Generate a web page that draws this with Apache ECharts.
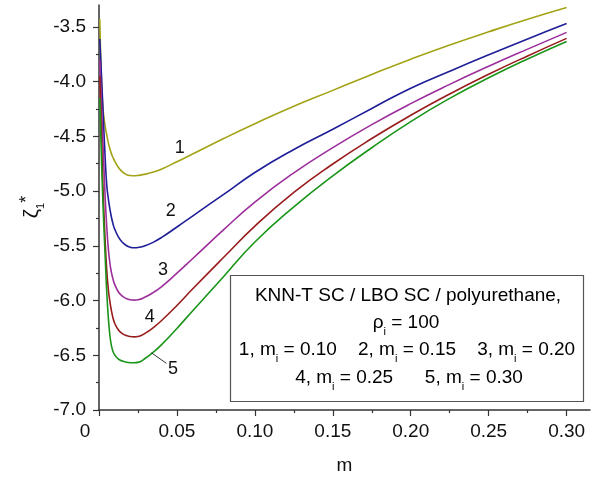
<!DOCTYPE html>
<html><head><meta charset="utf-8">
<script src="https://cdn.jsdelivr.net/npm/echarts@6/dist/echarts.min.js"></script>
<style>html,body{margin:0;padding:0;background:#fff}#c{width:607px;height:485px}</style>
</head><body><div id="c"></div>
<script>
// m values (x)
const mValues = [0.0005, 0.0015, 0.0025, 0.004, 0.005, 0.006, 0.007, 0.008, 0.009, 0.01, 0.0125, 0.015, 0.0175, 0.02, 0.0225, 0.025, 0.03, 0.035, 0.04, 0.05, 0.06, 0.08, 0.10, 0.125, 0.15, 0.175, 0.20, 0.225, 0.25, 0.275, 0.30];
// zeta_1* for m_i = 0.10, 0.15, 0.20, 0.25, 0.30
const curve1 = [-3.43, -3.95, -4.24, -4.41, -4.49, -4.56, -4.615, -4.66, -4.695, -4.725, -4.785, -4.825, -4.848, -4.858, -4.86, -4.857, -4.845, -4.826, -4.80, -4.732, -4.662, -4.52, -4.385, -4.225, -4.08, -3.935, -3.795, -3.665, -3.545, -3.43, -3.323];
const curve2 = [-3.61, -3.92, -4.24, -4.71, -4.95, -5.07, -5.165, -5.24, -5.30, -5.345, -5.42, -5.468, -5.497, -5.513, -5.518, -5.516, -5.497, -5.466, -5.425, -5.328, -5.228, -5.03, -4.83, -4.62, -4.435, -4.245, -4.06, -3.905, -3.755, -3.61, -3.47];
const curve3 = [-3.80, -4.17, -4.54, -5.07, -5.33, -5.53, -5.66, -5.745, -5.805, -5.85, -5.922, -5.96, -5.982, -5.993, -5.996, -5.993, -5.965, -5.925, -5.875, -5.75, -5.618, -5.352, -5.10, -4.833, -4.603, -4.393, -4.201, -4.025, -3.86, -3.703, -3.55];
const curve4 = [-3.95, -4.45, -4.94, -5.47, -5.73, -5.90, -6.01, -6.095, -6.16, -6.205, -6.27, -6.302, -6.32, -6.329, -6.332, -6.329, -6.295, -6.245, -6.185, -6.045, -5.895, -5.605, -5.32, -5.0125, -4.7525, -4.52, -4.3075, -4.1125, -3.9325, -3.765, -3.605];
const curve5 = [-4.15, -4.66, -5.10, -5.61, -5.93, -6.16, -6.32, -6.415, -6.465, -6.495, -6.535, -6.553, -6.563, -6.568, -6.569, -6.565, -6.525, -6.47, -6.405, -6.255, -6.095, -5.78, -5.465, -5.144, -4.861, -4.604, -4.365, -4.153, -3.965, -3.793, -3.633];
const curveNames = ['1', '2', '3', '4', '5'];
const miValues = ['0.10', '0.15', '0.20', '0.25', '0.30'];
const xTickValues = [0, 0.05, 0.10, 0.15, 0.20, 0.25, 0.30];
const yTickValues = [-7.0, -6.5, -6.0, -5.5, -5.0, -4.5, -4.0, -3.5];

const curves = [curve1, curve2, curve3, curve4, curve5];
const colors = ['#a3a316', '#1e1e98', '#9c2e9c', '#981c1c', '#1a951a'];
const labelAnchors = [[0.0518, -4.604], [0.046, -5.18], [0.041, -5.72], [0.0325, -6.148], [0.0475, -6.629]];
const FONT = 'Liberation Sans, Arial, sans-serif';

const chart = echarts.init(document.getElementById('c'), null, {renderer: 'canvas'});

const series = curves.map((c, i) => {
  const s = {
    type: 'line',
    name: curveNames[i],
    data: mValues.map((m, j) => [m, c[j]]),
    showSymbol: false,
    smooth: 0.5,
    lineStyle: {color: colors[i], width: 1.6},
    itemStyle: {color: colors[i]},
    animation: false,
    markPoint: {
      symbol: 'circle', symbolSize: 0, silent: true, animation: false,
      data: [{coord: labelAnchors[i], label: {show: true, position: 'inside', formatter: curveNames[i], color: '#111', fontSize: 18, fontFamily: FONT}}]
    }
  };
  if (i === 4) {
    s.markLine = {
      symbol: 'none', silent: true, animation: false,
      label: {show: false},
      lineStyle: {color: '#333', width: 1, type: 'solid'},
      data: [[{coord: [0.0336, -6.477]}, {coord: [0.0433, -6.574]}]]
    };
  }
  return s;
});

const rich = {
  n: {fontSize: 19, fontFamily: FONT, color: '#111', lineHeight: 28},
  s: {fontSize: 11, fontFamily: FONT, color: '#111', verticalAlign: 'bottom', lineHeight: 11}
};
function mi(k) { return '{n|' + curveNames[k] + ', m}{s|i}{n| = ' + miValues[k] + '}'; }

const option = {
  backgroundColor: '#fff',
  animation: false,
  grid: {left: 99, right: 17, top: 5, bottom: 75, containLabel: false, outerBoundsMode: 'none'},
  xAxis: {
    type: 'value', min: 0, max: 0.315, interval: 0.05,
    name: 'm', nameLocation: 'middle', nameGap: 46,
    nameTextStyle: {fontSize: 19, fontFamily: FONT, color: '#111'},
    axisLine: {show: true, onZero: false, lineStyle: {color: '#333', width: 1.5}},
    axisTick: {show: true, inside: false, length: 6, lineStyle: {color: '#333', width: 1.2}, customValues: xTickValues},
    minorTick: {show: true, splitNumber: 2, length: 3, lineStyle: {color: '#333', width: 1.2}},
    splitLine: {show: false},
    axisLabel: {
      margin: 12, fontSize: 19, fontFamily: FONT, color: '#111',
      customValues: xTickValues,
      formatter: v => v === 0 ? '{z|0}' : v.toFixed(2),
      rich: {z: {fontSize: 19, fontFamily: FONT, color: '#111', padding: [0, 28, 0, 0]}}
    }
  },
  yAxis: {
    type: 'value', min: -7, max: -3.3, interval: 0.5,
    axisLine: {show: true, onZero: false, lineStyle: {color: '#333', width: 1.5}},
    axisTick: {show: true, inside: false, length: 6, lineStyle: {color: '#333', width: 1.2}, customValues: yTickValues},
    minorTick: {show: true, splitNumber: 2, length: 3, lineStyle: {color: '#333', width: 1.2}},
    splitLine: {show: false},
    axisLabel: {
      margin: 13, fontSize: 19, fontFamily: FONT, color: '#111',
      customValues: yTickValues,
      formatter: v => v.toFixed(1)
    }
  },
  graphic: [
    {type: 'text', x: 32, y: 207, rotation: Math.PI / 2, silent: true,
     style: {text: '{a|ζ}{b|1}{c|*}', align: 'center', verticalAlign: 'middle',
       rich: {
         a: {fontSize: 21, fontFamily: FONT, fill: '#111', color: '#111', lineHeight: 28},
         b: {fontSize: 11, fontFamily: FONT, fill: '#111', color: '#111', verticalAlign: 'bottom', lineHeight: 11},
         c: {fontSize: 18, fontFamily: FONT, fill: '#111', color: '#111', verticalAlign: 'top', lineHeight: 18}
       }}},
    {type: 'rect', shape: {x: 230.5, y: 275.5, width: 353, height: 126}, silent: true,
     style: {fill: '#fff', stroke: '#555', lineWidth: 1.2}, z: 10},
    {type: 'text', x: 408, y: 296, silent: true, z: 11,
     style: {text: '{n|KNN-T SC / LBO SC / polyurethane,}', align: 'center', verticalAlign: 'middle', rich: rich}},
    {type: 'text', x: 406, y: 323, silent: true, z: 11,
     style: {text: '{n|ρ}{s|i}{n| = 100}', align: 'center', verticalAlign: 'middle', rich: rich}},
    {type: 'text', x: 407, y: 350, silent: true, z: 11,
     style: {text: mi(0) + '{n|    }' + mi(1) + '{n|    }' + mi(2), align: 'center', verticalAlign: 'middle', rich: rich}},
    {type: 'text', x: 409, y: 378, silent: true, z: 11,
     style: {text: mi(3) + '{n|      }' + mi(4), align: 'center', verticalAlign: 'middle', rich: rich}}
  ],
  series: series
};
chart.setOption(option);
</script>
</body></html>
